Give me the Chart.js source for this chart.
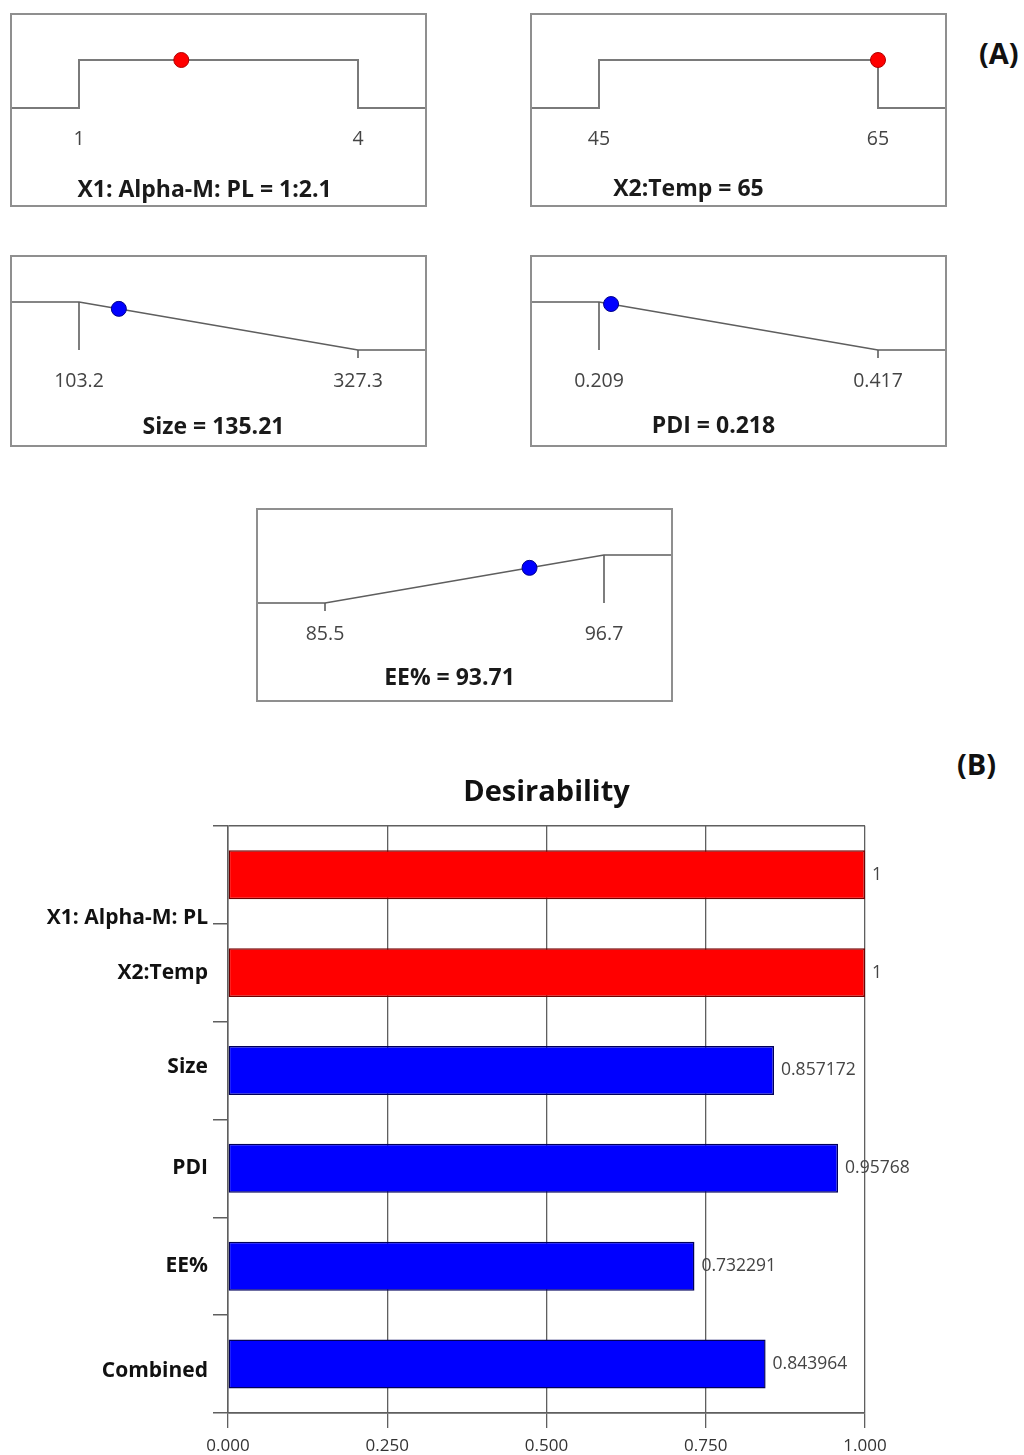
<!DOCTYPE html>
<html>
<head>
<meta charset="utf-8">
<title>Optimization desirability</title>
<script src="https://cdn.jsdelivr.net/npm/chart.js@4.4.1/dist/chart.umd.min.js"></script>
<style>
  html, body { margin: 0; padding: 0; background: #fff; width: 1024px; height: 1455px; overflow: hidden; }
  .box { position: absolute; border: 2px solid #8f8f8f; box-sizing: border-box; background: #fff; }
  .box canvas { display: block; }
  .caption { position: absolute; left: 0; text-align: center; white-space: nowrap;
             font: bold 23px 'Open Sans', 'DejaVu Sans', sans-serif; color: #1a1a1a; line-height: 30px; }
  .tag { position: absolute; font: bold 29px 'Open Sans', 'DejaVu Sans', sans-serif; color: #111; line-height: 38px; }
  #desire { position: absolute; left: 0; top: 745px; }
</style>
</head>
<body>
<div class="tag" style="left:979px; top:34px;">(A)</div>
<div class="tag" style="left:957px; top:745px;">(B)</div>
<canvas id="desire" width="1024" height="710"></canvas>

<script>
// ---- factor / response ramps ----
const panelNames   = ['X1: Alpha-M: PL', 'X2:Temp', 'Size', 'PDI', 'EE%'];
const lowLimits    = [1, 45, 103.2, 0.209, 85.5];
const highLimits   = [4, 65, 327.3, 0.417, 96.7];
const lowLabels    = ['1', '45', '103.2', '0.209', '85.5'];
const highLabels   = ['4', '65', '327.3', '0.417', '96.7'];
const optimumValues = [2.1, 65, 135.21, 0.218, 93.71];
const optimumText   = ['1:2.1', '65', '135.21', '0.218', '93.71'];
const goals         = ['range', 'range', 'minimize', 'minimize', 'maximize'];

// ---- desirability bars ----
const desirabilityNames  = ['X1: Alpha-M: PL', 'X2:Temp', 'Size', 'PDI', 'EE%', 'Combined'];
const desirabilityValues = [1, 1, 0.857172, 0.95768, 0.732291, 0.843964];
const desirabilityKinds  = ['factor', 'factor', 'response', 'response', 'response', 'combined'];
const xTickValues        = [0, 0.25, 0.5, 0.75, 1];

Chart.defaults.font.family = "'Open Sans', 'DejaVu Sans', sans-serif";
Chart.defaults.animation = false;

// panel frames: outer box position and height, caption centre (from box top) and its leftward offset
const boxLayout = [
  { left: 10,  top: 13,  height: 194, captionY: 175, shift: 14 },
  { left: 530, top: 13,  height: 194, captionY: 174, shift: 50 },
  { left: 10,  top: 255, height: 192, captionY: 170, shift: 5 },
  { left: 530, top: 255, height: 192, captionY: 169, shift: 25 },
  { left: 256, top: 508, height: 194, captionY: 168, shift: 15 }
];
const BOX_W = 417, BORDER = 2, INNER_W = BOX_W - 2 * BORDER;
const LO_PX = 67, SPAN_PX = 279;          // where the lower limit sits, and limit-to-limit width
const TOP_D = 45, PX_PER_D = 48, AREA_H = 108, STUB_PX = 8, AXIS_H = 31;
const Y_MAX = TOP_D / PX_PER_D + 1;
const Y_MIN = Y_MAX - AREA_H / PX_PER_D;

function rampPoints(goal, lo, hi, xLeft, xRight) {
  if (goal === 'range') {
    return [{x: xLeft, y: 0}, {x: lo, y: 0}, {x: lo, y: 1}, {x: hi, y: 1}, {x: hi, y: 0}, {x: xRight, y: 0}];
  }
  if (goal === 'minimize') {
    return [{x: xLeft, y: 1}, {x: lo, y: 1}, {x: hi, y: 0}, {x: xRight, y: 0}];
  }
  return [{x: xLeft, y: 0}, {x: lo, y: 0}, {x: hi, y: 1}, {x: xRight, y: 1}];
}

function limitMarks(goal, lo, hi) {
  const stub = -STUB_PX / PX_PER_D;
  if (goal === 'minimize') return [[{x: lo, y: 1}, {x: lo, y: 0}], [{x: hi, y: 0}, {x: hi, y: stub}]];
  if (goal === 'maximize') return [[{x: lo, y: 0}, {x: lo, y: stub}], [{x: hi, y: 1}, {x: hi, y: 0}]];
  return [];
}

panelNames.forEach((name, k) => {
  const L = boxLayout[k];
  const box = document.createElement('div');
  box.className = 'box';
  Object.assign(box.style, { left: L.left + 'px', top: L.top + 'px', width: BOX_W + 'px', height: L.height + 'px' });
  const cv = document.createElement('canvas');
  const innerH = L.height - 2 * BORDER;
  cv.width = INNER_W;
  cv.height = innerH;
  box.appendChild(cv);

  const caption = document.createElement('div');
  caption.className = 'caption';
  caption.textContent = name + ' = ' + optimumText[k];
  caption.style.width = (INNER_W - 2 * L.shift) + 'px';
  caption.style.top = (L.captionY - BORDER - 15) + 'px';
  box.appendChild(caption);
  document.body.appendChild(box);

  const lo = lowLimits[k], hi = highLimits[k], span = hi - lo;
  const xMin = lo - LO_PX * span / SPAN_PX;
  const xMax = lo + (INNER_W - LO_PX) * span / SPAN_PX;
  const isFactor = goals[k] === 'range';
  const lineColor = isFactor ? '#7a7a7a' : '#5e5e5e';
  const lineW = isFactor ? 2 : 1.6;

  const datasets = [{
    data: rampPoints(goals[k], lo, hi, xMin, xMax),
    showLine: true, borderColor: lineColor, borderWidth: lineW,
    pointRadius: 0, tension: 0, clip: false, order: 2
  }];
  limitMarks(goals[k], lo, hi).forEach(seg => datasets.push({
    data: seg, showLine: true, borderColor: lineColor, borderWidth: lineW,
    pointRadius: 0, clip: false, order: 2
  }));
  datasets.push({
    data: [{ x: optimumValues[k], y: desirabilityValues[k] }],
    pointRadius: 7.5,
    backgroundColor: isFactor ? '#ff0000' : '#0000ff',
    borderColor: isFactor ? '#b00000' : '#00008a',
    borderWidth: 1, clip: false, order: 1
  });

  new Chart(cv, {
    type: 'scatter',
    data: { datasets },
    options: {
      responsive: false, animation: false, events: [],
      layout: { autoPadding: false, padding: { left: 0, right: 0, top: 0, bottom: innerH - AREA_H - AXIS_H } },
      plugins: { legend: { display: false }, tooltip: { enabled: false } },
      scales: {
        x: {
          type: 'linear', min: xMin, max: xMax,
          afterBuildTicks: s => { s.ticks = [{ value: lo }, { value: hi }]; },
          afterFit: s => { s.height = AXIS_H; },
          ticks: {
            callback: (v, i) => (i === 0 ? lowLabels[k] : highLabels[k]),
            font: { size: 19.5 }, color: '#444', padding: 5,
            autoSkip: false, maxRotation: 0
          },
          grid: { display: false, drawTicks: false },
          border: { display: false }
        },
        y: { type: 'linear', min: Y_MIN, max: Y_MAX, display: false }
      }
    }
  });
});

// ---- desirability bar chart ----
const catCount = desirabilityNames.length;
const labelNudge = [0.44, 0, -0.04, 0, 0, 0.07];   // name placement along the category axis
const barData = desirabilityValues.map((v, i) => ({ x: v, y: i }));
const barFill = desirabilityKinds.map(t => (t === 'factor' ? '#ff0000' : '#0000ff'));
const barEdge = desirabilityKinds.map(t => (t === 'factor' ? '#700000' : '#00005c'));
const AXIS_GRAY = '#5f5f5f';

const barValueLabels = {
  id: 'barValueLabels',
  afterDatasetsDraw(chart) {
    const { ctx } = chart;
    const meta = chart.getDatasetMeta(0);
    ctx.save();
    ctx.font = "17.5px 'Open Sans', 'DejaVu Sans', sans-serif";
    ctx.fillStyle = '#444';
    ctx.textAlign = 'left';
    ctx.textBaseline = 'middle';
    meta.data.forEach((bar, i) => ctx.fillText(String(desirabilityValues[i]), bar.x + 7, bar.y));
    ctx.restore();
  }
};

new Chart(document.getElementById('desire'), {
  type: 'bar',
  data: {
    datasets: [{
      data: barData, xAxisID: 'x', yAxisID: 'yb',
      backgroundColor: barFill, borderColor: barEdge,
      borderWidth: 1.5, borderSkipped: false,
      barPercentage: 0.5, categoryPercentage: 1
    }]
  },
  options: {
    indexAxis: 'y', responsive: false, animation: false, events: [],
    layout: { autoPadding: false, padding: { left: 0, right: 159, top: 0, bottom: 0 } },
    plugins: {
      legend: { display: false },
      tooltip: { enabled: false },
      title: {
        display: true, text: 'Desirability', fullSize: false,
        font: { size: 29, weight: 'bold' }, color: '#111',
        padding: { top: 30, bottom: 16 }
      }
    },
    scales: {
      x: {
        type: 'linear', position: 'bottom', min: 0, max: 1, offset: false,
        afterBuildTicks: s => { s.ticks = xTickValues.map(v => ({ value: v })); },
        afterFit: s => { s.height = 42; },
        ticks: {
          callback: v => Number(v).toFixed(3),
          font: { size: 17 }, color: '#333', padding: 8,
          autoSkip: false, maxRotation: 0
        },
        grid: { offset: false, color: AXIS_GRAY, lineWidth: 1.3, tickLength: 15, tickColor: AXIS_GRAY },
        border: { display: true, color: AXIS_GRAY, width: 1.5 }
      },
      y: {
        type: 'linear', position: 'left', reverse: true, offset: false,
        min: -0.5, max: catCount - 0.5, weight: 1,
        afterBuildTicks: s => { s.ticks = desirabilityNames.map((n, i) => ({ value: i + labelNudge[i] })); },
        afterFit: s => { s.width = 213; },
        ticks: {
          callback: (v, i) => desirabilityNames[i],
          font: { size: 21, weight: 'bold' }, color: '#111', padding: 5,
          autoSkip: false
        },
        grid: { display: false, drawTicks: false, offset: false },
        border: { display: false }
      },
      yb: {
        type: 'linear', position: 'left', reverse: true, offset: false,
        min: -0.5, max: catCount - 0.5, weight: 0,
        afterBuildTicks: s => {
          s.ticks = Array.from({ length: catCount + 1 }, (_, i) => ({ value: i - 0.5 }));
        },
        afterFit: s => { s.width = 15; },
        ticks: { display: false },
        grid: {
          offset: false,
          color: c => ((c.index === 0 || c.index === catCount) ? AXIS_GRAY : 'rgba(0,0,0,0)'),
          lineWidth: 1.5, tickLength: 15, tickColor: AXIS_GRAY
        },
        border: { display: true, color: AXIS_GRAY, width: 1.5 }
      }
    }
  },
  plugins: [barValueLabels]
});
</script>
</body>
</html>
